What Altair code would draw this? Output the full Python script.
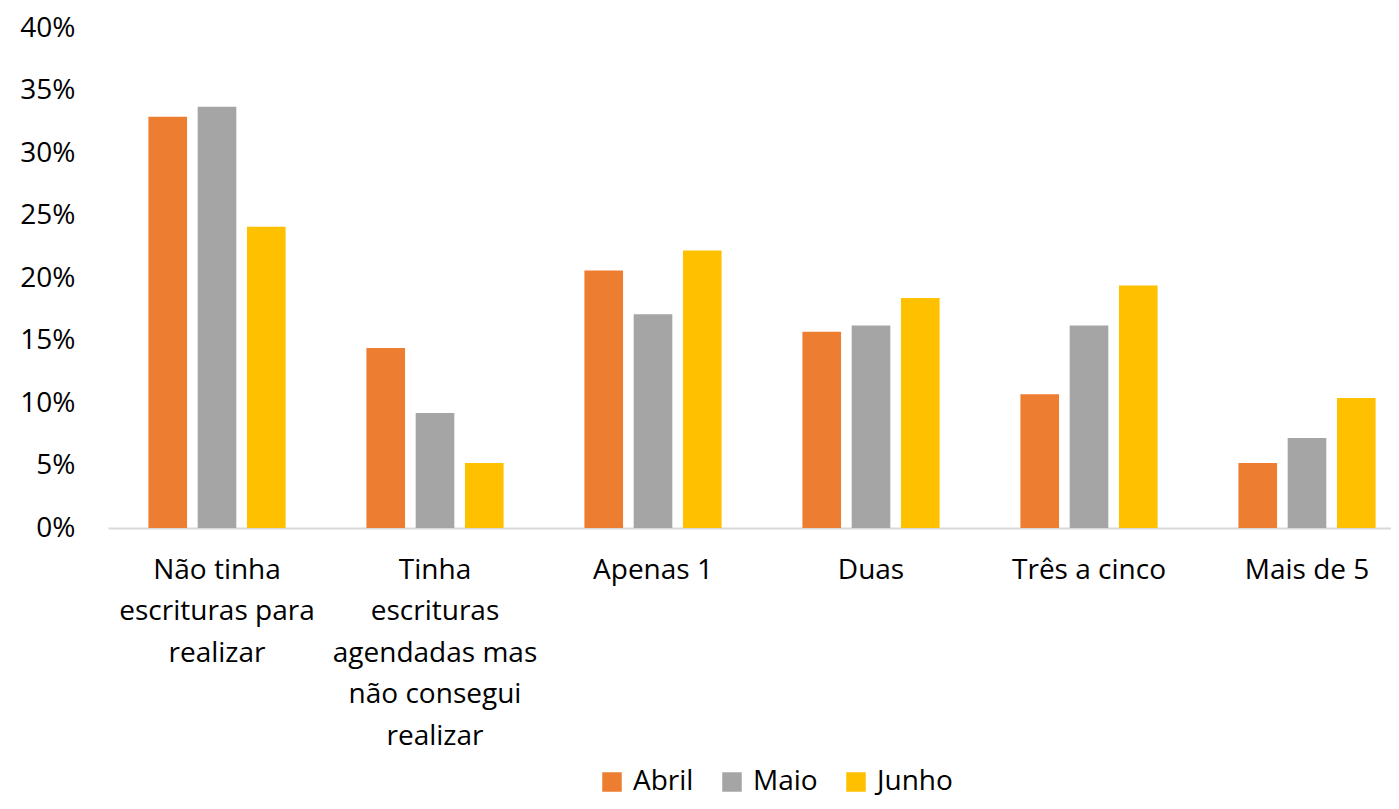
import altair as alt
import pandas as pd

categories = [
    "Não tinha escrituras para realizar",
    "Tinha escrituras agendadas mas não consegui realizar",
    "Apenas 1",
    "Duas",
    "Três a cinco",
    "Mais de 5",
]
category_labels = [
    "Não tinha|escrituras para|realizar",
    "Tinha|escrituras|agendadas mas|não consegui|realizar",
    "Apenas 1",
    "Duas",
    "Três a cinco",
    "Mais de 5",
]
series = ["Abril", "Maio", "Junho"]
colors = ["#ED7D31", "#A5A5A5", "#FFC000"]
abril = [0.329, 0.144, 0.206, 0.157, 0.107, 0.052]
maio = [0.337, 0.092, 0.171, 0.162, 0.162, 0.072]
junho = [0.241, 0.052, 0.222, 0.184, 0.194, 0.104]

rows = []
for vals, s in zip([abril, maio, junho], series):
    for lab, v in zip(category_labels, vals):
        rows.append({"cat": lab, "serie": s, "valor": v})
df = pd.DataFrame(rows)

FONT = "Open Sans"
FS = 28

chart = alt.Chart(df).mark_bar().encode(
    x=alt.X("cat:N", sort=category_labels, title=None,
            scale=alt.Scale(paddingInner=0, paddingOuter=0, range=[0, 1308]),
            axis=alt.Axis(labelAngle=0, ticks=False, domainColor="#D9D9D9", domainWidth=2,
                          labelExpr="split(datum.label, '|')", labelLineHeight=41.5,
                          labelPadding=28, labelFontSize=FS, labelFont=FONT,
                          labelColor="#000000", labelLimit=300)),
    xOffset=alt.XOffset("serie:N", sort=series,
                        scale=alt.Scale(paddingInner=0.216, paddingOuter=0.82)),
    y=alt.Y("valor:Q", title=None,
            scale=alt.Scale(domain=[0, 0.4], nice=False),
            axis=alt.Axis(format=".0%", values=[i * 0.05 for i in range(9)], grid=False,
                          domain=False, ticks=False, labelPadding=33, labelFontSize=FS,
                          labelFont=FONT, labelColor="#000000")),
    color=alt.Color("serie:N", sort=series, title=None,
                    scale=alt.Scale(domain=series, range=colors),
                    legend=alt.Legend(orient="none", legendX=490, legendY=740,
                                      direction="horizontal", symbolType="square",
                                      symbolSize=380, symbolStrokeWidth=0, labelFontSize=FS,
                                      labelFont=FONT, labelColor="#000000", columnPadding=24,
                                      labelOffset=7, symbolOpacity=1)),
).properties(
    width=1283, height=500,
    autosize=alt.AutoSizeParams(type="none"),
    padding={"left": 100, "top": 20, "right": 0, "bottom": 272},
).configure_view(stroke=None)

chart.save("out.html", embed_options={"renderer": "svg", "actions": False})
